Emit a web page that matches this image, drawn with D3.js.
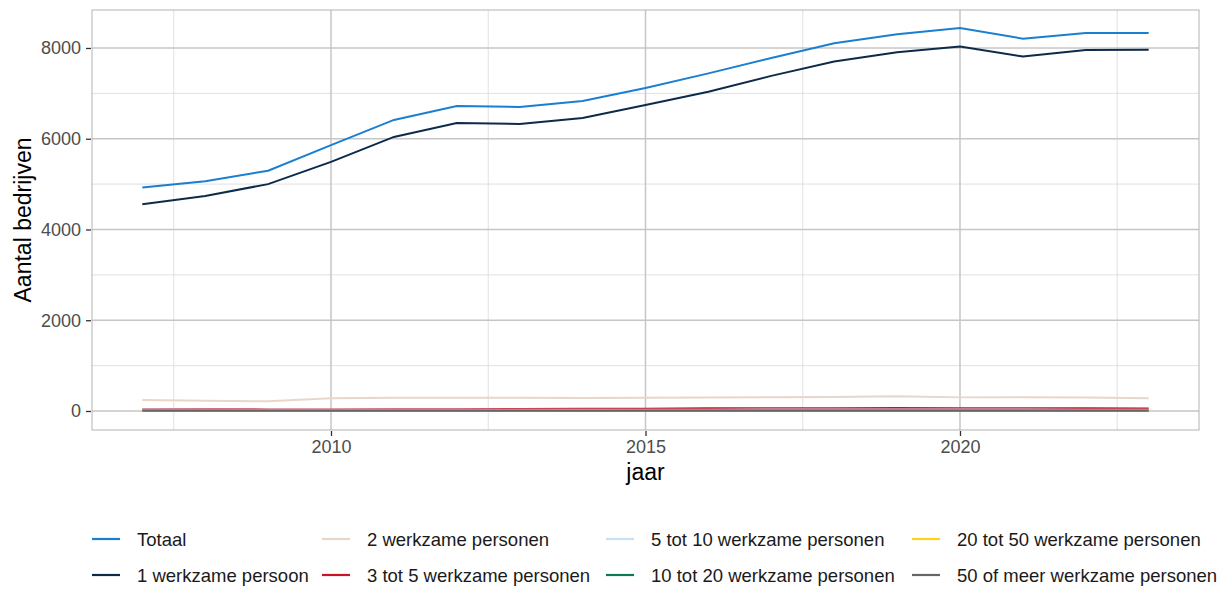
<!DOCTYPE html>
<html><head><meta charset="utf-8">
<script src="https://cdn.jsdelivr.net/npm/d3@7"></script>
<style>body{margin:0;background:#fff;overflow:hidden;} text{font-family:"Liberation Sans",Arial,sans-serif;}</style>
</head><body>
<svg id="c" width="1222" height="590"></svg>
<script>
const years = [2007,2008,2009,2010,2011,2012,2013,2014,2015,2016,2017,2018,2019,2020,2021,2022,2023];
const seriesNames = ["Totaal","1 werkzame persoon","2 werkzame personen","3 tot 5 werkzame personen","5 tot 10 werkzame personen","10 tot 20 werkzame personen","20 tot 50 werkzame personen","50 of meer werkzame personen"];
const seriesColors = ["#1a7fd1","#0c2b4b","#e8d6c9","#cc1122","#c6e2f6","#0b7a50","#ffd21a","#666666"];
const totaal =   [4925,5065,5295,5860,6415,6720,6700,6830,7120,7440,7780,8105,8300,8440,8205,8330,8330];
const een =      [4555,4740,5000,5490,6040,6345,6325,6455,6745,7035,7385,7700,7905,8030,7810,7955,7960];
const twee =     [242,228,213,280,290,293,290,288,292,298,305,310,325,300,305,295,280];
const drieVijf = [40,38,35,35,38,40,45,48,52,58,62,62,65,62,60,58,55];
const vijfTien = [35,30,28,26,28,28,27,28,28,30,32,32,33,34,32,30,30];
const tienTwintig = [15,14,13,12,13,13,12,13,14,14,15,15,16,16,15,15,15];
const twintigVijftig = [8,8,7,7,7,7,7,8,8,8,8,9,9,9,8,8,8];
const vijftigMeer = [5,5,5,4,4,4,4,5,5,5,5,5,5,5,5,5,5];
const yTicks = [0,2000,4000,6000,8000];
const xTicks = [2010,2015,2020];

const seriesValues = [totaal,een,twee,drieVijf,vijfTien,tienTwintig,twintigVijftig,vijftigMeer];

const svg = d3.select("#c");
const L=92, R=1199, T=10, B=430;
const x = d3.scaleLinear().domain([2006.2,2023.8]).range([L,R]);
const y = d3.scaleLinear().domain([-419,8837]).range([B,T]);

const g = svg.append("g");
// minor grid
[2007.5,2012.5,2017.5,2022.5].forEach(v=>g.append("line").attr("x1",x(v)).attr("x2",x(v)).attr("y1",T).attr("y2",B).attr("stroke","#dedede").attr("stroke-width",0.9));
[1000,3000,5000,7000].forEach(v=>g.append("line").attr("y1",y(v)).attr("y2",y(v)).attr("x1",L).attr("x2",R).attr("stroke","#dedede").attr("stroke-width",0.9));
// major grid
xTicks.forEach(v=>g.append("line").attr("x1",x(v)).attr("x2",x(v)).attr("y1",T).attr("y2",B).attr("stroke","#c6c6c6").attr("stroke-width",1.5));
yTicks.forEach(v=>g.append("line").attr("y1",y(v)).attr("y2",y(v)).attr("x1",L).attr("x2",R).attr("stroke","#c6c6c6").attr("stroke-width",1.5));

// lines
const line = d3.line().x((d,i)=>x(years[i])).y(d=>y(d));
seriesValues.forEach((vals,k)=>{
  g.append("path").attr("d",line(vals)).attr("fill","none").attr("stroke",seriesColors[k]).attr("stroke-width",2);
});

// border
g.append("rect").attr("x",L).attr("y",T).attr("width",R-L).attr("height",B-T).attr("fill","none").attr("stroke","#b3b3b3").attr("stroke-width",1);

// axes
const yAxis = d3.axisLeft(y).tickValues(yTicks).tickSize(5).tickPadding(5).tickFormat(d3.format("d"));
const ya = svg.append("g").attr("transform",`translate(${L-1},0)`).call(yAxis);
ya.select(".domain").remove();
ya.selectAll(".tick line").attr("stroke","#333").attr("stroke-width",1.3);
ya.selectAll(".tick text").attr("fill","#4d4d4d").style("font-size","18px");

const xAxis = d3.axisBottom(x).tickValues(xTicks).tickSize(5).tickPadding(4).tickFormat(d3.format("d"));
const xa = svg.append("g").attr("transform",`translate(0,${B+1})`).call(xAxis);
xa.select(".domain").remove();
xa.selectAll(".tick line").attr("stroke","#333").attr("stroke-width",1.3);
xa.selectAll(".tick text").attr("fill","#4d4d4d").style("font-size","18px");

svg.append("text").attr("x",(L+R)/2).attr("y",480).attr("text-anchor","middle").style("font-size","23px").attr("fill","#000").text("jaar");
svg.append("text").attr("transform",`translate(31,${(T+B)/2}) rotate(-90)`).attr("text-anchor","middle").style("font-size","23px").attr("fill","#000").text("Aantal bedrijven");

// legend
const colX = [92,322,606,912];
const rowY = [539,575];
seriesNames.forEach((n,k)=>{
  const col = Math.floor(k/2), row = k%2;
  const lg = svg.append("g").attr("transform",`translate(${colX[col]},${rowY[row]})`);
  lg.append("line").attr("x1",0).attr("x2",28).attr("y1",0).attr("y2",0).attr("stroke",seriesColors[k]).attr("stroke-width",2.2);
  lg.append("text").attr("x",45).attr("y",6.5).style("font-size","18.5px").attr("fill","#1a1a1a").text(n);
});
</script>
</body></html>
